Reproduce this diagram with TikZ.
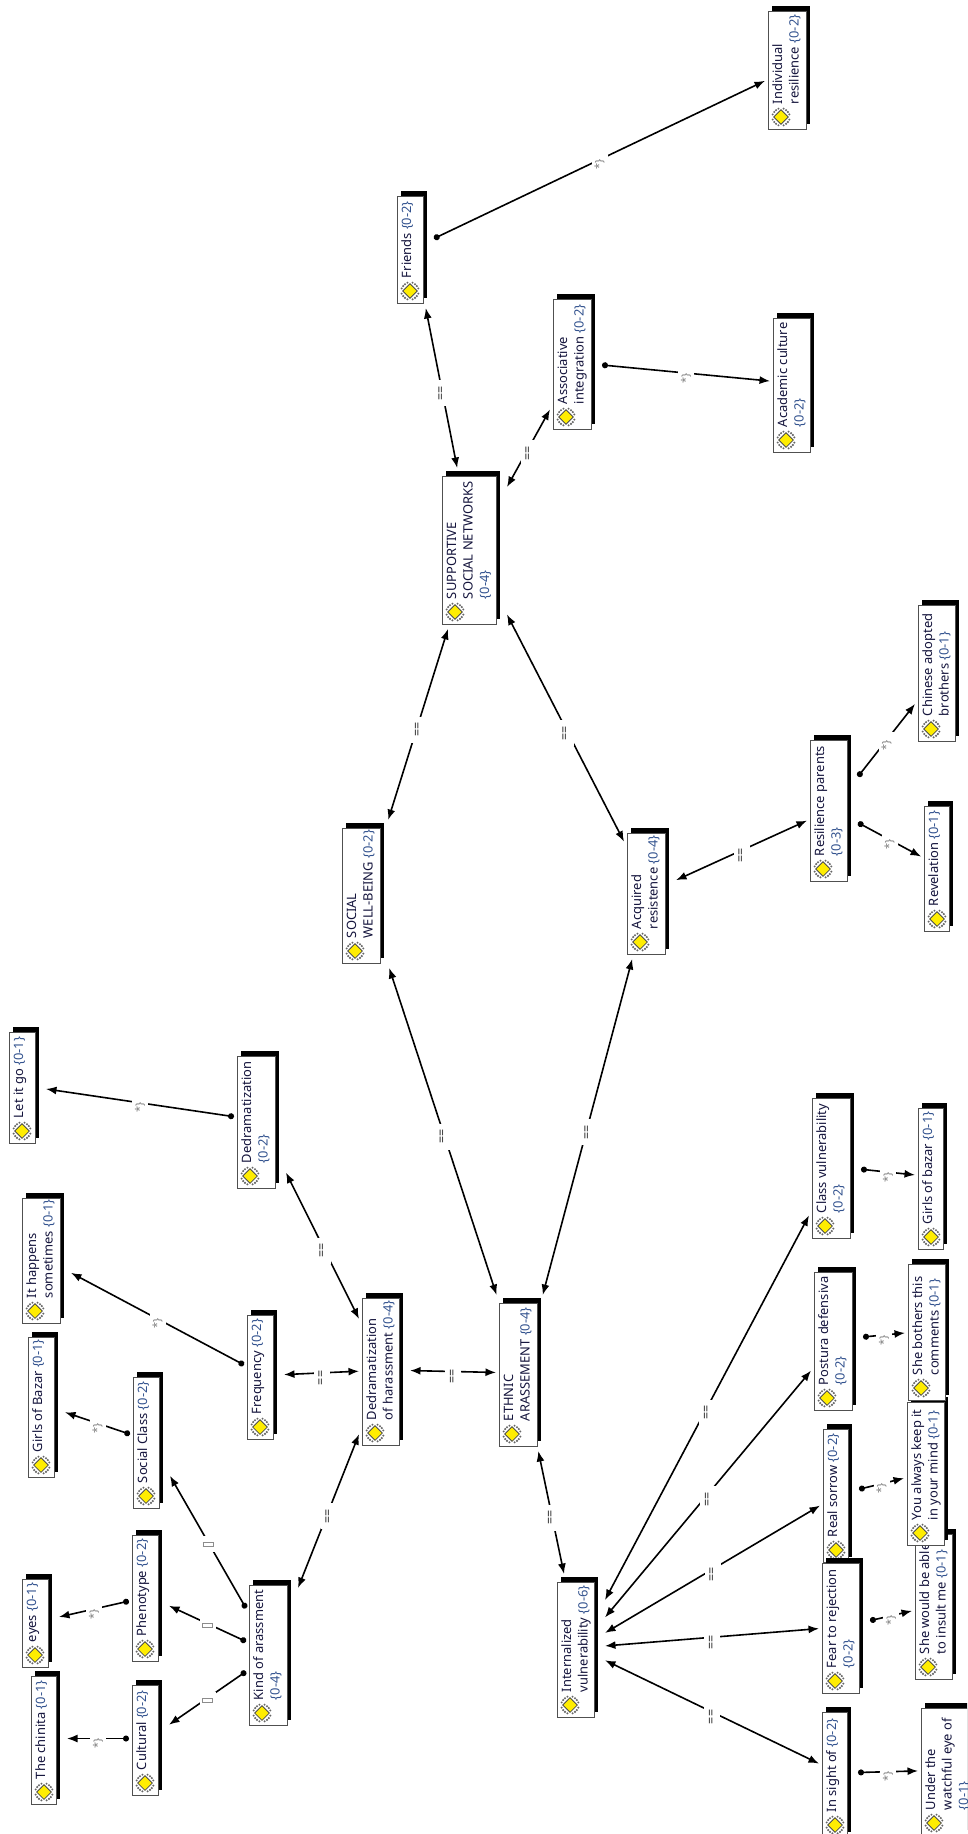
\documentclass[tikz,border=0pt]{standalone}
\usepackage{fontspec}
\setmainfont{Noto Sans}
\usetikzlibrary{arrows.meta}
\definecolor{namecol}{HTML}{14143C}
\definecolor{countcol}{HTML}{33538F}
\definecolor{boxedge}{HTML}{505050}
\newcommand\ct[1]{\textcolor{countcol}{\{#1\}}}
\tikzset{
  x=1pt,y=-1pt,
  hull/.style={rectangle,inner sep=0pt,outer sep=3pt,rotate=90,text=namecol},
  boxface/.style={fill=white,draw=boxedge,line width=0.9pt},
  twoway/.style={line width=1.6pt,{Latex[length=10.5pt,width=8pt]}-{Latex[length=10.5pt,width=8pt]}},
  oneway/.style={line width=1.6pt,{Circle[length=6pt]}-{Latex[length=10.5pt,width=8pt]}},
  eqlab/.style={yshift=-5pt,rotate=90,fill=white,inner sep=0pt,minimum width=26pt,minimum height=16pt,text=black!85,font=\fontsize{12.5}{12.5}\selectfont},
  starlab/.style={yshift=-5pt,rotate=90,fill=white,inner sep=0pt,minimum width=26pt,minimum height=16pt,text=black!50,font=\fontsize{11}{11}\selectfont},
  boxlab/.style={yshift=-2pt,fill=white,inner sep=0pt,minimum width=16pt,minimum height=16pt},
  atlasicon/.pic={
    \foreach \sx in {-1,1}{\foreach \sy in {-1,1}{
      \fill[black!60] (\sx*5,\sy*6.8) circle (1.2);
      \fill[black!60] (\sx*6.8,\sy*5) circle (1.2);
      \fill[black!60] (\sx*8.3,\sy*2.6) circle (1.1);
      \fill[black!60] (\sx*2.6,\sy*8.3) circle (1.1);
    }}
    \filldraw[fill=yellow!95!orange,draw=black!70,line width=0.8pt] (-7.3,0)--(0,-7.3)--(7.3,0)--(0,7.3)--cycle;
  }
}
\newcommand\concept[6]{%
  \fill[black] (#2+4,#3-5) rectangle (#4+3.5,#5-5);
  \path[boxface] (#2,#3) rectangle (#4,#5);
  \pic at (#2+13,#5-12) {atlasicon};
  \pgfmathsetmacro\hullw{#5-#3+7}
  \pgfmathsetmacro\hullh{#4-#2+8}
  \node[hull] (#1) at ({(#2+#4+8)/2},{(#3+#5-3)/2})
    {\parbox[c][\hullh pt][t]{\hullw pt}{\fontsize{12.9}{16.5}\selectfont
      \leftskip=27pt\rightskip=-60pt plus 1fil\parindent=0pt\vspace*{2.5pt}\strut #6}};
}
\newcommand\tofu{\setlength\fboxsep{0pt}\setlength\fboxrule{1pt}\fcolorbox{black!45}{white}{\rule{9pt}{0pt}\rule{0pt}{3pt}}}
\begin{document}
\begin{tikzpicture}
\useasboundingbox (0,0) rectangle (967,1834);
\fill[white] (0,0) rectangle (967,1834);
\clip (0,0) rectangle (967,1834);

\concept{indiv}{768}{11}{806}{129}{Individual\\resilience \ct{0-2}}
\concept{friends}{397}{196}{423}{303}{Friends \ct{0-2}}
\concept{assoc}{553}{299}{591}{429}{Associative\\integration \ct{0-2}}
\concept{academic}{773}{318}{810}{452}{Academic culture\\\ct{0-2}}
\concept{support}{442}{476}{496}{624}{SUPPORTIVE\\SOCIAL NETWORKS\\\ct{0-4}}
\concept{chinese}{918}{605}{955}{741}{Chinese adopted\\brothers \ct{0-1}}
\concept{resil}{810}{740}{847}{881}{Resilience parents\\\ct{0-3}}
\concept{revel}{924}{806}{949}{931}{Revelation \ct{0-1}}
\concept{social}{342}{828}{380}{963}{SOCIAL\\WELL-BEING \ct{0-2}}
\concept{acquired}{627}{833}{665}{954}{Acquired\\resistence \ct{0-4}}
\concept{letgo}{9}{1032}{35}{1143}{Let it go \ct{0-1}}
\concept{dedram}{237}{1056}{275}{1188}{Dedramatization\\\ct{0-2}}
\concept{happens}{22}{1198}{60}{1323}{It happens\\sometimes \ct{0-1}}
\concept{gbazar}{28}{1337}{54}{1477}{Girls of Bazar \ct{0-1}}
\concept{freq}{247}{1315}{273}{1439}{Frequency \ct{0-2}}
\concept{sclass}{133}{1377}{159}{1508}{Social Class \ct{0-2}}
\concept{pheno}{132}{1535}{158}{1661}{Phenotype \ct{0-2}}
\concept{eyes}{22}{1579}{48}{1667}{eyes \ct{0-1}}
\concept{kind}{249}{1585}{287}{1725}{Kind of arassment\\\ct{0-4}}
\concept{cultural}{132}{1685}{158}{1795}{Cultural \ct{0-2}}
\concept{chinita}{31}{1676}{56}{1804}{The chinita \ct{0-1}}
\concept{dedhar}{362}{1298}{399}{1445}{Dedramatization\\of harassment \ct{0-4}}
\concept{ethnic}{499}{1303}{537}{1446}{ETHNIC\\ARASSEMENT \ct{0-4}}
\concept{intern}{557}{1582}{594}{1717}{Internalized\\vulnerability \ct{0-6}}
\concept{insight}{822}{1712}{847}{1837}{In sight of \ct{0-2}}
\concept{real}{823}{1429}{848}{1562}{Real sorrow \ct{0-2}}
\concept{fear}{822}{1563}{859}{1693}{Fear to rejection\\\ct{0-2}}
\concept{under}{921}{1708}{976}{1835}{Under the\\watchful eye of\\\ct{0-1}}
\concept{would}{915}{1534}{952}{1679}{She would be able\\to insult me \ct{0-1}}
\concept{always}{907}{1402}{944}{1545}{You always keep it\\in your mind \ct{0-1}}
\concept{bothers}{908}{1264}{945}{1400}{She bothers this\\comments \ct{0-1}}
\concept{postura}{814}{1272}{852}{1410}{Postura defensiva\\\ct{0-2}}
\concept{cvuln}{812}{1098}{850}{1238}{Class vulnerability\\\ct{0-2}}
\concept{gbazar2}{918}{1108}{943}{1249}{Girls of bazar \ct{0-1}}

\draw[twoway] (friends) -- node[eqlab] (e1) {==} (support);
\draw[twoway] (support) -- node[eqlab] (e2) {==} (assoc);
\draw[twoway] (social) -- node[eqlab] (e3) {==} (support);
\draw[twoway] (support) -- node[eqlab] (e4) {==} (acquired);
\draw[twoway] (acquired) -- node[eqlab] (e5) {==} (resil);
\draw[twoway] (social) -- node[eqlab] (e6) {==} (ethnic);
\draw[twoway] (acquired) -- node[eqlab] (e7) {==} (ethnic);
\draw[twoway] (dedhar) -- node[eqlab] (e8) {==} (ethnic);
\draw[twoway] (dedram) -- node[eqlab] (e9) {==} (dedhar);
\draw[twoway] (freq) -- node[eqlab] (e10) {==} (dedhar);
\draw[twoway] (kind) -- node[eqlab] (e11) {==} (dedhar);
\draw[twoway] (ethnic) -- node[eqlab] (e12) {==} (intern);
\draw[twoway] (intern) -- node[eqlab] (e13) {==} (cvuln);
\draw[twoway] (intern) -- node[eqlab] (e14) {==} (postura);
\draw[twoway] (intern) -- node[eqlab] (e15) {==} (real);
\draw[twoway] (intern) -- node[eqlab] (e16) {==} (fear);
\draw[twoway] (intern) -- node[eqlab] (e17) {==} (insight);

\draw[oneway] (friends) -- node[starlab] (s1) {*\}} (indiv);
\draw[oneway] (assoc) -- node[starlab] (s2) {*\}} (academic);
\draw[oneway] (resil) -- node[starlab] (s3) {*\}} (chinese);
\draw[oneway] (resil) -- node[starlab] (s4) {*\}} (revel);
\draw[oneway] (dedram) -- node[starlab] (s5) {*\}} (letgo);
\draw[oneway] (freq) -- node[starlab] (s6) {*\}} (happens);
\draw[oneway] (sclass) -- node[starlab] (s7) {*\}} (gbazar);
\draw[oneway] (pheno) -- node[starlab] (s8) {*\}} (eyes);
\draw[oneway] (cultural) -- node[starlab] (s9) {*\}} (chinita);
\draw[oneway] (insight) -- node[starlab] (s10) {*\}} (under);
\draw[oneway] (fear) -- node[starlab] (s11) {*\}} (would);
\draw[oneway] (real) -- node[starlab] (s12) {*\}} (always);
\draw[oneway] (postura) -- node[starlab] (s13) {*\}} (bothers);
\draw[oneway] (cvuln) -- node[starlab] (s14) {*\}} (gbazar2);

\draw[oneway] (kind) -- node[boxlab] (b1) {\tofu} (sclass);
\draw[oneway] (kind) -- node[boxlab] (b2) {\tofu} (pheno);
\draw[oneway] (kind) -- node[boxlab] (b3) {\tofu} (cultural);
\end{tikzpicture}
\end{document}
